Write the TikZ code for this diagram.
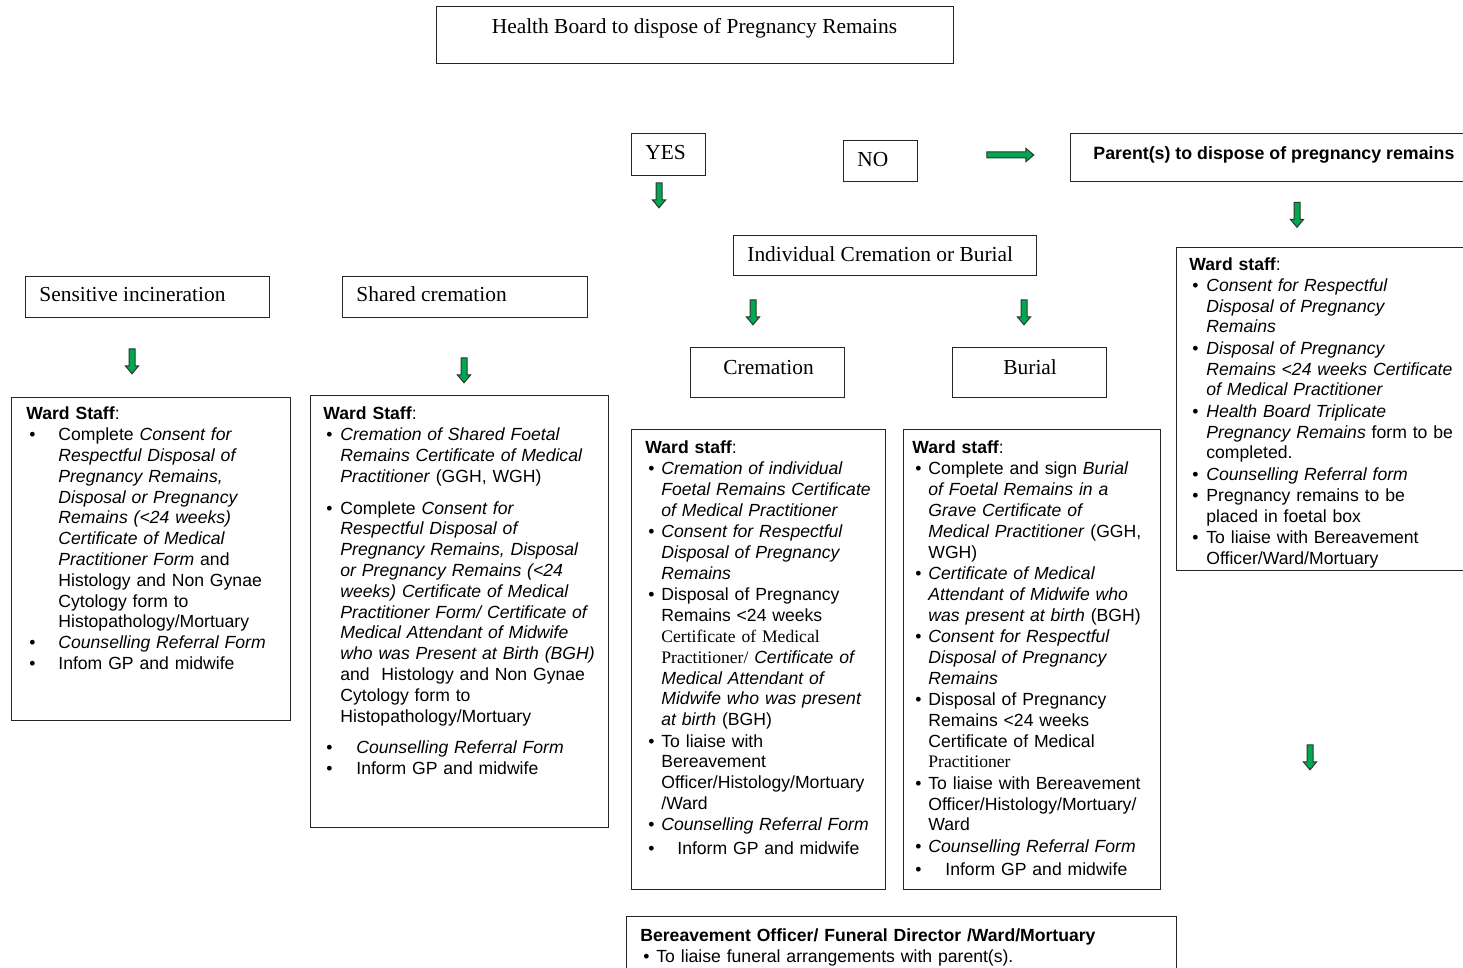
\documentclass[tikz,border=0pt]{standalone}
\usepackage{fontspec}
\setmainfont{Liberation Serif}
\setsansfont{Liberation Sans}
\usetikzlibrary{positioning, shapes.arrows}

\definecolor{flowgreen}{RGB}{0,168,80}
\newcommand{\nl}{\hfil\break}
\newcommand{\wi}[3][0pt]{\par\vspace{#1}\hangindent=#2\hangafter=1\noindent\makebox[#2][l]{\hspace{1.5pt}\textbullet}#3}

\tikzset{
  box/.style={draw=black!85, line width=0.7pt, anchor=north west, inner sep=0pt},
  title/.style={anchor=base west, inner sep=0pt, font=\fontsize{10.7pt}{12pt}\selectfont\rmfamily},
  wardtext/.style={anchor=base west, inner sep=0pt, text width=300pt, font=\fontsize{8.8pt}{10.4pt}\selectfont\sffamily},
  flowarrow/.style={single arrow, draw=black!80, fill=flowgreen, line width=0.5pt, inner sep=1.25pt,
    single arrow head extend=1.8pt, single arrow tip angle=80, minimum height=12.5pt},
  downarrow/.style={flowarrow, rotate=-90},
}

\begin{document}
\begin{tikzpicture}[x=0.5pt, y=-0.5pt]
\useasboundingbox (0,0) rectangle (1463,968);

\node [box, minimum width=258.5pt, minimum height=28.5pt] (board) at (436,6) {};
\node [title, anchor=base] (boardtxt) at (694.5,34) {Health Board to dispose of Pregnancy Remains};

\node [box, minimum width=37pt, minimum height=21pt] (yes) at (631,133) {};
\node [title] (yestxt) at (645,160) {YES};
\node [box, minimum width=37pt, minimum height=20.5pt] (no) at (843,140) {};
\node [title] (notxt) at (857,167) {NO};

\node [box, minimum width=202.5pt, minimum height=24pt] (parent) at (1070,133) {};
\node [anchor=base west, inner sep=0pt, font=\fontsize{8.9pt}{10.4pt}\selectfont\sffamily\bfseries] (parenttxt) at (1093,159.5) {Parent(s) to dispose of pregnancy remains};

\node [box, minimum width=151.5pt, minimum height=20pt] (indiv) at (733,235) {};
\node [title] (indivtxt) at (747,262) {Individual Cremation or Burial};

\node [box, minimum width=77pt, minimum height=25pt] (crem) at (690,347) {};
\node [title] (cremtxt) at (723,375) {Cremation};
\node [box, minimum width=77pt, minimum height=25pt] (burial) at (952,347) {};
\node [title] (burialtxt) at (1003,375) {Burial};

\node [box, minimum width=122pt, minimum height=20.5pt] (sens) at (25,276) {};
\node [title] (senstxt) at (39,302) {Sensitive incineration};
\node [box, minimum width=122.5pt, minimum height=20.5pt] (shared) at (342,276) {};
\node [title] (sharedtxt) at (356,302) {Shared cremation};

\node [downarrow] (a1) at (659,193.5) {};
\node [flowarrow, minimum height=23.5pt] (a2) at (1008.5,155) {};
\node [downarrow] (a3) at (1297,213) {};
\node [downarrow] (a4) at (753,310.5) {};
\node [downarrow] (a5) at (1024,310.5) {};
\node [downarrow] (a6) at (132,359.5) {};
\node [downarrow] (a7) at (464,368.5) {};
\node [downarrow] (a8) at (1310,755.5) {};

\node [box, minimum width=139.5pt, minimum height=161.5pt] (ward1) at (11,397) {};
\node [wardtext] (ward1txt) at (26,420) {\textbf{Ward Staff}:
\wi{16pt}{Complete \textit{Consent for}\nl \textit{Respectful Disposal of}\nl \textit{Pregnancy Remains,}\nl \textit{Disposal or Pregnancy}\nl \textit{Remains (<24 weeks)}\nl \textit{Certificate of Medical}\nl \textit{Practitioner Form} and\nl Histology and Non Gynae\nl Cytology form to\nl Histopathology/Mortuary}
\wi{16pt}{\textit{Counselling Referral Form}}
\wi{16pt}{Infom GP and midwife}\par};

\node [box, minimum width=149pt, minimum height=216pt] (ward2) at (310,395) {};
\node [wardtext] (ward2txt) at (323,420) {\textbf{Ward Staff}:
\wi{8.5pt}{\textit{Cremation of Shared Foetal}\nl \textit{Remains Certificate of Medical}\nl \textit{Practitioner} (GGH, WGH)}
\wi[5.5pt]{8.5pt}{Complete \textit{Consent for}\nl \textit{Respectful Disposal of}\nl \textit{Pregnancy Remains, Disposal}\nl \textit{or Pregnancy Remains (<24}\nl \textit{weeks) Certificate of Medical}\nl \textit{Practitioner Form/ Certificate of}\nl \textit{Medical Attendant of Midwife}\nl \textit{who was Present at Birth (BGH)}\nl and\ \ Histology and Non Gynae\nl Cytology form to\nl Histopathology/Mortuary}
\wi[5.5pt]{16.5pt}{\textit{Counselling Referral Form}}
\wi{16.5pt}{Inform GP and midwife}\par};

\node [box, minimum width=127pt, minimum height=230pt] (ward3) at (631,429) {};
\node [wardtext] (ward3txt) at (645,453.5) {\textbf{Ward staff}:
\wi[0.3pt]{8pt}{\textit{Cremation of individual}\nl \textit{Foetal Remains Certificate}\nl \textit{of Medical Practitioner}}
\wi[0.3pt]{8pt}{\textit{Consent for Respectful}\nl \textit{Disposal of Pregnancy}\nl \textit{Remains}}
\wi[0.3pt]{8pt}{Disposal of Pregnancy\nl Remains <24 weeks\nl {\rmfamily Certificate of Medical}\nl {\rmfamily Practitioner/} \textit{Certificate of}\nl \textit{Medical Attendant of}\nl \textit{Midwife who was present}\nl \textit{at birth} (BGH)}
\wi[0.3pt]{8pt}{To liaise with\nl Bereavement\nl Officer/Histology/Mortuary\nl /Ward}
\wi[0.3pt]{8pt}{\textit{Counselling Referral Form}}
\wi[1.5pt]{16pt}{Inform GP and midwife}\par};

\node [box, minimum width=128.5pt, minimum height=230pt] (ward4) at (903,429) {};
\node [wardtext] (ward4txt) at (912,453.5) {\textbf{Ward staff}:
\wi[0.3pt]{8pt}{Complete and sign \textit{Burial}\nl \textit{of Foetal Remains in a}\nl \textit{Grave Certificate of}\nl \textit{Medical Practitioner} (GGH,\nl WGH)}
\wi[0.3pt]{8pt}{\textit{Certificate of Medical}\nl \textit{Attendant of Midwife who}\nl \textit{was present at birth} (BGH)}
\wi[0.3pt]{8pt}{\textit{Consent for Respectful}\nl \textit{Disposal of Pregnancy}\nl \textit{Remains}}
\wi[0.3pt]{8pt}{Disposal of Pregnancy\nl Remains <24 weeks\nl Certificate of Medical\nl {\rmfamily Practitioner}}
\wi[0.3pt]{8pt}{To liaise with Bereavement\nl Officer/Histology/Mortuary/\nl Ward}
\wi[0.3pt]{8pt}{\textit{Counselling Referral Form}}
\wi[1pt]{16.5pt}{Inform GP and midwife}\par};

\node [box, minimum width=149.5pt, minimum height=161.5pt] (ward5) at (1176,247) {};
\node [wardtext] (ward5txt) at (1189,270.5) {\textbf{Ward staff}:
\wi{8.5pt}{\textit{Consent for Respectful}\nl \textit{Disposal of Pregnancy}\nl \textit{Remains}}
\wi[0.3pt]{8.5pt}{\textit{Disposal of Pregnancy}\nl \textit{Remains <24 weeks Certificate}\nl \textit{of Medical Practitioner}}
\wi[0.3pt]{8.5pt}{\textit{Health Board Triplicate}\nl \textit{Pregnancy Remains} form to be\nl completed.}
\wi[0.3pt]{8.5pt}{\textit{Counselling Referral form}}
\wi[0.3pt]{8.5pt}{Pregnancy remains to be\nl placed in foetal box}
\wi[0.3pt]{8.5pt}{To liaise with Bereavement\nl Officer/Ward/Mortuary}\par};

\node [box, minimum width=275pt, minimum height=37pt] (bereave) at (626,916) {};
\node [wardtext] (bereavetxt) at (640,941.5) {\textbf{Bereavement Officer/ Funeral Director /Ward/Mortuary}
\wi{8pt}{To liaise funeral arrangements with parent(s).}\par};

\end{tikzpicture}
\end{document}
